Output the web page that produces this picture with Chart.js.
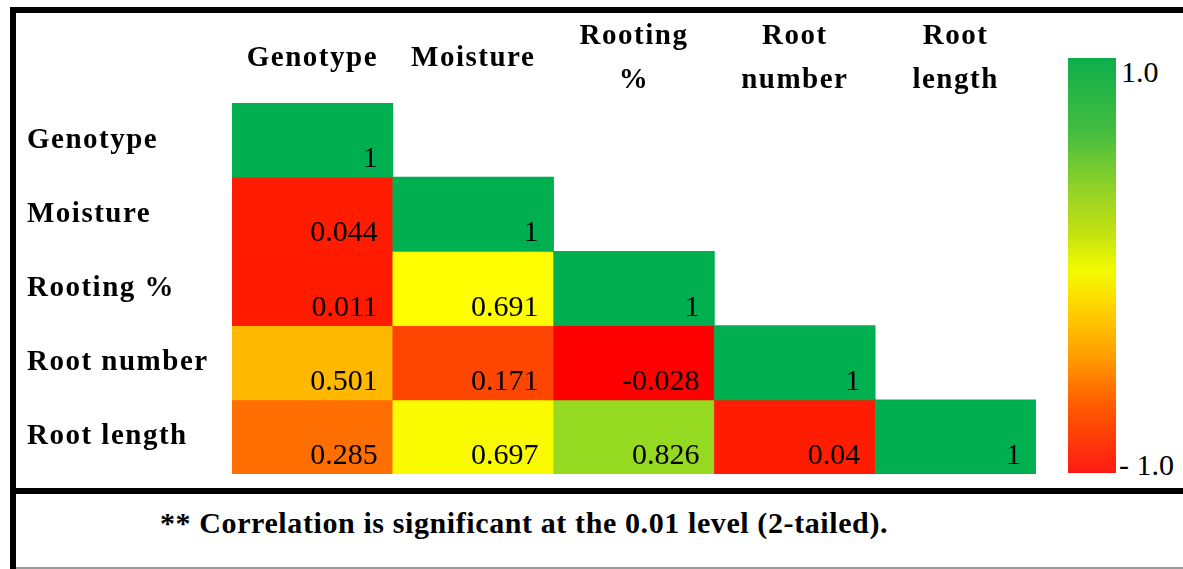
<!DOCTYPE html>
<html>
<head>
<meta charset="utf-8">
<title>Correlation heatmap</title>
<script src="https://cdn.jsdelivr.net/npm/chart.js@4/dist/chart.umd.min.js"></script>
<style>
  body { margin: 0; background: #fff; }
  #page { position: relative; width: 1183px; height: 569px; overflow: hidden; font-family: "Liberation Serif", "Times New Roman", serif; }
  #chartBox { position: absolute; left: 0; top: 0; width: 1040px; height: 476px; }
  .rule { position: absolute; background: #000; z-index: 2; }
  #scaleBar {
    position: absolute; left: 1068px; top: 58px; width: 48px; height: 415px;
    background: linear-gradient(to bottom, #0eae4c 0%, #45bd3e 18%, #8ad02a 30%, #c2e010 42%, #f2fc00 51%, #ffd400 60%, #ff9c00 72%, #ff5a00 84%, #ff1a14 100%);
  }
  .scaleLabel { position: absolute; font-size: 30px; color: #000; line-height: 30px; }
  #note { position: absolute; left: 160px; top: 506px; font-size: 30px; font-weight: bold; letter-spacing: 0.6px; white-space: nowrap; }
</style>
</head>
<body>
<div id="page">
  <div id="chartBox"><canvas id="heat" width="1040" height="476"></canvas></div>

  <div id="scaleBar"></div>
  <div class="scaleLabel" style="left:1121px; top:57px;">1.0</div>
  <div class="scaleLabel" style="left:1119px; top:450px;">-&nbsp;1.0</div>

  <div class="rule" style="left:10px; top:7px; width:1173px; height:6px;"></div>
  <div class="rule" style="left:10px; top:7px; width:6px; height:562px;"></div>
  <div class="rule" style="left:10px; top:488px; width:1173px; height:6px;"></div>
  <div class="rule" style="left:16px; top:567px; width:1167px; height:2px; background:#9a9a9a;"></div>

  <div id="note">** Correlation is significant at the 0.01 level (2-tailed).</div>
</div>

<script>
// ===== DATA =====
const colLabels = [["Genotype"], ["Moisture"], ["Rooting", "%"], ["Root", "number"], ["Root", "length"]];
const rowLabels = ["Genotype", "Moisture", "Rooting %", "Root number", "Root length"];

// lower triangle of the correlation matrix, one array per row
const genotype   = [1];
const moisture   = [0.044, 1];
const rooting    = [0.011, 0.691, 1];
const rootNumber = [0.501, 0.171, -0.028, 1];
const rootLength = [0.285, 0.697, 0.826, 0.04, 1];

const rows = [genotype, moisture, rooting, rootNumber, rootLength];

// ===== COLOUR SCALE =====
const colourStops = [
  [-1, [255, 0, 0]],
  [-0.028, [255, 0, 0]],
  [0.01, [255, 26, 0]],
  [0.05, [255, 28, 0]],
  [0.17, [255, 70, 0]],
  [0.29, [255, 112, 0]],
  [0.5, [255, 184, 0]],
  [0.69, [255, 255, 0]],
  [0.7, [248, 248, 0]],
  [0.83, [146, 216, 34]],
  [1, [0, 176, 80]]
];

function colourFor(v) {
  for (let k = 1; k < colourStops.length; k++) {
    const [v1, c1] = colourStops[k];
    const [v0, c0] = colourStops[k - 1];
    if (v <= v1) {
      const t = v1 === v0 ? 0 : (v - v0) / (v1 - v0);
      const c = c0.map((ch, n) => Math.round(ch + (c1[n] - ch) * t));
      return `rgb(${c[0]},${c[1]},${c[2]})`;
    }
  }
  return "rgb(0,176,80)";
}

const labelFont = { family: "Liberation Serif", size: 29, weight: "bold", lineHeight: 1.55 };

// each row becomes a dataset of floating bars spanning [row, row + 1]
const datasets = rows.map((vals, i) => ({
  label: rowLabels[i],
  data: colLabels.map((c, j) => (j < vals.length ? [i, i + 1] : null)),
  backgroundColor: colLabels.map((c, j) => (j < vals.length ? colourFor(vals[j]) : "transparent")),
  borderWidth: 0,
  barPercentage: 1,
  categoryPercentage: 1,
  grouped: false
}));

// ===== VALUE TEXT IN CELLS =====
const cellValues = {
  id: "cellValues",
  beforeDraw(chart) {
    chart.ctx.letterSpacing = "1.5px";
  },
  afterDatasetsDraw(chart) {
    const ctx = chart.ctx;
    ctx.save();
    ctx.letterSpacing = "0px";
    ctx.font = "30px 'Liberation Serif', serif";
    ctx.fillStyle = "#000";
    ctx.textAlign = "right";
    ctx.textBaseline = "alphabetic";
    rows.forEach((vals, i) => {
      const meta = chart.getDatasetMeta(i);
      vals.forEach((v, j) => {
        const bar = meta.data[j];
        const p = bar.getProps(["x", "y", "base", "width"], true);
        const bottom = Math.max(p.y, p.base);
        ctx.fillText(String(v), p.x + p.width / 2 - 15, bottom - 10);
      });
    });
    ctx.restore();
  },
  afterDraw(chart) {
    chart.ctx.letterSpacing = "0px";
  }
};

new Chart(document.getElementById("heat"), {
  type: "bar",
  data: {
    labels: colLabels,
    datasets: datasets
  },
  options: {
    responsive: false,
    animation: false,
    events: [],
    layout: { padding: { left: 27, top: 0, right: 4, bottom: 2 } },
    plugins: {
      legend: { display: false },
      tooltip: { enabled: false }
    },
    scales: {
      x: {
        type: "category",
        position: "top",
        grid: { display: false, drawTicks: false },
        border: { display: false },
        ticks: {
          color: "#000",
          font: labelFont,
          padding: 22,
          crossAlign: "center",
          maxRotation: 0,
          autoSkip: false
        },
        afterFit(scale) { scale.height = 103; }
      },
      y: {
        type: "linear",
        min: 0,
        max: 5,
        reverse: true,
        grid: { display: false, drawTicks: false },
        border: { display: false },
        afterBuildTicks(scale) {
          scale.ticks = rowLabels.map((r, i) => ({ value: i + 0.5 }));
        },
        ticks: {
          color: "#000",
          font: labelFont,
          crossAlign: "far",
          autoSkip: false,
          callback: (v) => rowLabels[Math.floor(v)]
        },
        afterFit(scale) {
          scale.width = 205;
          scale.paddingTop = 0;
          scale.paddingBottom = 0;
        }
      }
    }
  },
  plugins: [cellValues]
});
</script>
</body>
</html>
